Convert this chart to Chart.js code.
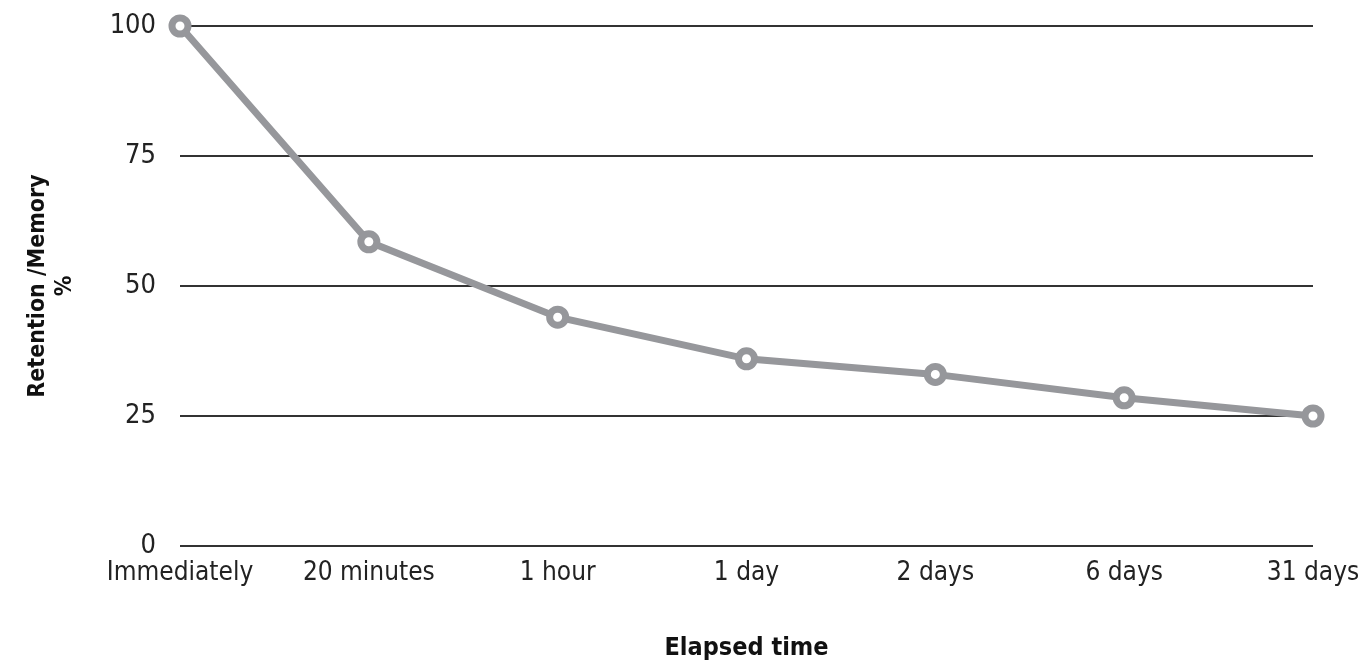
<!DOCTYPE html>
<html>
<head>
<meta charset="utf-8">
<script src="https://cdn.jsdelivr.net/npm/chart.js@4/dist/chart.umd.min.js"></script>
<style>
  html, body { margin: 0; padding: 0; background: #fff; }
  #wrap { width: 1360px; height: 668px; }
</style>
</head>
<body>
<div id="wrap"><canvas id="myChart" width="1360" height="668"></canvas></div>
<script>
var categories = ['Immediately', '20 minutes', '1 hour', '1 day', '2 days', '6 days', '31 days'];
var retention = [100, 58.5, 44, 36, 33, 28.5, 25];
var yTicks = [0, 25, 50, 75, 100];

var fontFamily = '"DejaVu Sans Condensed", "Liberation Sans Narrow", sans-serif';
var gray = 'rgba(150, 151, 155, 1)';

var ctx = document.getElementById('myChart').getContext('2d');
var myChart = new Chart(ctx, {
    type: 'line',
    data: {
        labels: categories,
        datasets: [{
            data: retention,
            borderColor: gray,
            borderWidth: 7,
            pointRadius: 8,
            pointBorderWidth: 7,
            pointBackgroundColor: '#fff',
            pointBorderColor: gray,
            clip: false,
            tension: 0
        }]
    },
    options: {
        responsive: false,
        animation: false,
        plugins: {
            legend: { display: false },
            tooltip: { enabled: false }
        },
        layout: {
            padding: { left: 24, right: 47, top: 26, bottom: 0 }
        },
        scales: {
            x: {
                grid: { display: false, drawTicks: false },
                border: { display: false },
                ticks: {
                    color: '#222',
                    font: { family: fontFamily, size: 26 },
                    padding: 12,
                    maxRotation: 0,
                    autoSkip: false
                },
                title: {
                    display: true,
                    text: 'Elapsed time',
                    color: '#111',
                    font: { family: fontFamily, size: 25, weight: 'bold' },
                    padding: { top: 21, bottom: 5 }
                },
                afterFit: function(scale) {
                    scale.height = 122;
                    scale.paddingLeft = 0;
                    scale.paddingRight = 0;
                }
            },
            y: {
                min: 0,
                max: 100,
                afterBuildTicks: function(scale) {
                    scale.ticks = yTicks.map(function(v) { return { value: v }; });
                },
                grid: {
                    color: '#333',
                    lineWidth: 2,
                    drawTicks: false
                },
                border: { display: false },
                ticks: {
                    color: '#222',
                    font: { family: fontFamily, size: 27 },
                    padding: 24
                },
                title: {
                    display: true,
                    text: ['Retention /Memory', '%'],
                    color: '#111',
                    font: { family: fontFamily, size: 23, weight: 'bold' },
                    padding: { top: 0, bottom: 0 }
                },
                afterFit: function(scale) {
                    scale.width = 156;
                    scale.paddingTop = 0;
                    scale.paddingBottom = 0;
                }
            }
        }
    }
});
</script>
</body>
</html>
